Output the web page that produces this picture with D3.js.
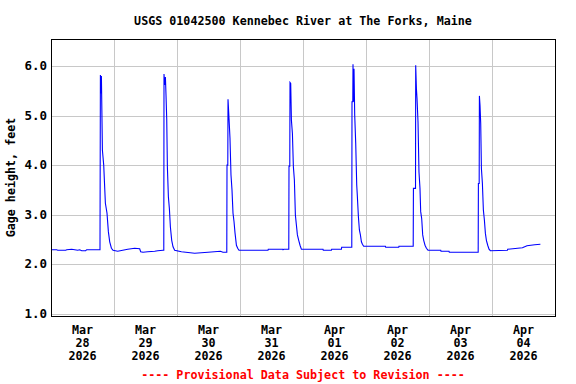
<!DOCTYPE html>
<html>
<head>
<meta charset="utf-8">
<script src="https://cdn.jsdelivr.net/npm/d3@7"></script>
<style>
  body { margin: 0; background: #fff; }
  svg text { font-family: "DejaVu Sans Mono", "Liberation Mono", monospace; font-weight: bold; }
</style>
</head>
<body>
<div id="chart"></div>
<script>
var title = "USGS 01042500 Kennebec River at The Forks, Maine";
var yTitle = "Gage height, feet";
var footnote = "---- Provisional Data Subject to Revision ----";

// days shown (label = month, day, year), midnight grid between them
var dayLabels = [
  ["Mar", "28", "2026"], ["Mar", "29", "2026"], ["Mar", "30", "2026"], ["Mar", "31", "2026"],
  ["Apr", "01", "2026"], ["Apr", "02", "2026"], ["Apr", "03", "2026"], ["Apr", "04", "2026"]
];
var yTicks = [1.0, 2.0, 3.0, 4.0, 5.0, 6.0];

// [hours after 2026-03-28 00:00, gage height ft]
var readings = [
  [0, 2.29], [2.17, 2.29], [2.55, 2.28], [5.6, 2.28], [5.98, 2.29], [7.89, 2.30], [9.03, 2.29],
  [10.17, 2.28], [10.93, 2.29], [11.7, 2.27], [13.22, 2.27], [13.6, 2.29], [18.67, 2.29],
  [18.82, 5.82], [19.05, 5.45], [19.2, 5.80], [19.58, 4.30], [20.08, 4.00], [20.72, 3.23],
  [21.33, 3.03], [21.87, 2.65], [22.36, 2.45], [23.01, 2.32], [23.62, 2.28], [25.41, 2.26],
  [29.22, 2.30], [31.89, 2.32], [33.79, 2.31], [34.17, 2.25], [35.05, 2.24], [36.84, 2.25],
  [39.5, 2.26], [40.65, 2.27], [42.67, 2.28], [42.97, 2.28],
  [43.05, 5.84], [43.31, 5.62], [43.58, 5.78], [43.81, 5.41], [44.08, 4.94], [44.34, 3.97],
  [44.72, 3.36], [45.1, 3.12], [45.49, 2.75], [45.98, 2.48], [46.48, 2.35], [47.12, 2.28],
  [49.68, 2.25], [54.74, 2.22], [59.81, 2.24], [64.53, 2.26], [65.52, 2.24], [66.97, 2.24],
  [67.05, 4.00], [67.35, 4.00], [67.43, 5.33], [67.81, 4.94], [68.19, 4.55], [68.57, 3.80],
  [68.95, 3.50], [69.33, 3.03], [69.71, 2.86], [70.1, 2.63], [70.63, 2.38], [71.12, 2.32],
  [71.62, 2.28], [82.67, 2.28], [82.78, 2.30], [88.27, 2.30], [88.38, 2.29], [88.65, 2.30],
  [90.59, 2.30],
  [90.67, 3.98], [90.97, 3.98], [91.05, 5.67], [91.31, 5.65], [91.58, 4.91], [91.96, 4.64],
  [92.34, 3.97], [92.72, 3.70], [93.1, 2.99], [93.49, 2.79], [93.87, 2.59], [94.36, 2.48],
  [94.86, 2.38], [95.39, 2.30], [103.62, 2.30], [103.73, 2.28], [106.82, 2.28], [106.93, 2.30],
  [110.63, 2.30], [110.74, 2.34], [114.59, 2.34],
  [114.67, 5.28], [114.97, 5.28], [115.05, 6.04], [115.2, 5.28], [115.43, 5.95], [115.7, 5.01],
  [116.08, 4.44], [116.46, 3.60], [116.72, 3.36], [117.1, 2.96], [117.49, 2.69], [117.87, 2.59],
  [118.25, 2.45], [118.63, 2.40], [119.12, 2.36], [127.39, 2.36], [127.5, 2.34], [132.46, 2.34],
  [132.57, 2.36], [137.98, 2.36],
  [138.06, 3.53], [138.86, 3.53], [138.93, 6.02], [139.2, 5.55], [139.43, 5.35], [139.81, 4.87],
  [140.19, 3.86], [140.57, 3.53], [140.84, 3.06], [141.22, 2.92], [141.6, 2.59], [141.98, 2.48],
  [142.48, 2.38], [143.01, 2.32], [143.62, 2.28], [148.46, 2.28], [148.57, 2.26], [151.62, 2.26],
  [151.73, 2.24], [162.74, 2.24],
  [162.82, 3.63], [163.12, 3.63], [163.2, 5.40], [163.43, 5.21], [163.7, 4.84], [163.96, 3.93],
  [164.34, 3.64], [164.72, 3.09], [165.1, 2.89], [165.49, 2.62], [165.87, 2.48], [166.36, 2.38],
  [166.86, 2.30], [167.39, 2.27], [173.87, 2.28], [173.98, 2.30], [179.58, 2.33], [181.33, 2.37],
  [184.27, 2.39], [186.44, 2.40]
];

var W = 576, H = 384;
var plotL = 51, plotR = 555, plotT = 39, plotB = 316;

var start = new Date(Date.UTC(2026, 2, 28));
var end = d3.utcDay.offset(start, dayLabels.length);

var x = d3.scaleUtc().domain([start, end]).range([plotL, plotR]);
var y = d3.scaleLinear().domain([0.95, 6.55]).range([plotB, plotT]);

var svg = d3.select("#chart").append("svg")
  .attr("width", W)
  .attr("height", H);

svg.append("text")
  .attr("x", (plotL + plotR) / 2)
  .attr("y", 25)
  .attr("text-anchor", "middle")
  .style("font-size", "11.7px")
  .text(title);

// grid
var grid = svg.append("g").attr("shape-rendering", "crispEdges");
grid.selectAll(".hg").data(yTicks).enter().append("line")
  .attr("x1", plotL).attr("x2", plotR)
  .attr("y1", function (d) { return Math.round(y(d)) + 0.5; })
  .attr("y2", function (d) { return Math.round(y(d)) + 0.5; })
  .attr("stroke", "#c8c8c8");
grid.selectAll(".vg").data(d3.utcDay.range(d3.utcDay.offset(start, 1), end)).enter().append("line")
  .attr("y1", plotT).attr("y2", plotB)
  .attr("x1", function (d) { return Math.round(x(d)) + 0.5; })
  .attr("x2", function (d) { return Math.round(x(d)) + 0.5; })
  .attr("stroke", "#c8c8c8");

// y labels
svg.selectAll(".yl").data(yTicks).enter().append("text")
  .attr("x", 47)
  .attr("y", function (d) { return y(d) + 4; })
  .attr("text-anchor", "end")
  .style("font-size", "12.5px")
  .text(function (d) { return d3.format(".1f")(d); });

svg.append("text")
  .attr("transform", "translate(15," + (plotT + plotB) / 2 + ") rotate(-90)")
  .attr("text-anchor", "middle")
  .style("font-size", "11.7px")
  .text(yTitle);

// x labels at noon of each day
var xl = svg.selectAll(".xl").data(dayLabels).enter().append("text")
  .attr("text-anchor", "middle")
  .style("font-size", "11.7px")
  .attr("transform", function (d, i) {
    return "translate(" + x(d3.utcHour.offset(start, i * 24 + 12)) + ",0)";
  });
[334, 347, 360].forEach(function (yy, k) {
  xl.append("tspan").attr("x", 0).attr("y", yy).text(function (d) { return d[k]; });
});

var line = d3.line()
  .x(function (d) { return x(d3.utcMinute.offset(start, Math.round(d[0] * 60))); })
  .y(function (d) { return y(d[1]); });

svg.append("path")
  .datum(readings)
  .attr("d", line)
  .attr("fill", "none")
  .attr("stroke", "#0000ff")
  .attr("stroke-width", 1.1);

svg.append("rect")
  .attr("x", plotL + 0.5).attr("y", plotT + 0.5)
  .attr("width", plotR - plotL).attr("height", plotB - plotT)
  .attr("fill", "none")
  .attr("stroke", "#000")
  .attr("shape-rendering", "crispEdges");

svg.append("text")
  .attr("x", (plotL + plotR) / 2)
  .attr("y", 379)
  .attr("text-anchor", "middle")
  .attr("fill", "#ff0000")
  .style("font-size", "11.7px")
  .text(footnote);
</script>
</body>
</html>
